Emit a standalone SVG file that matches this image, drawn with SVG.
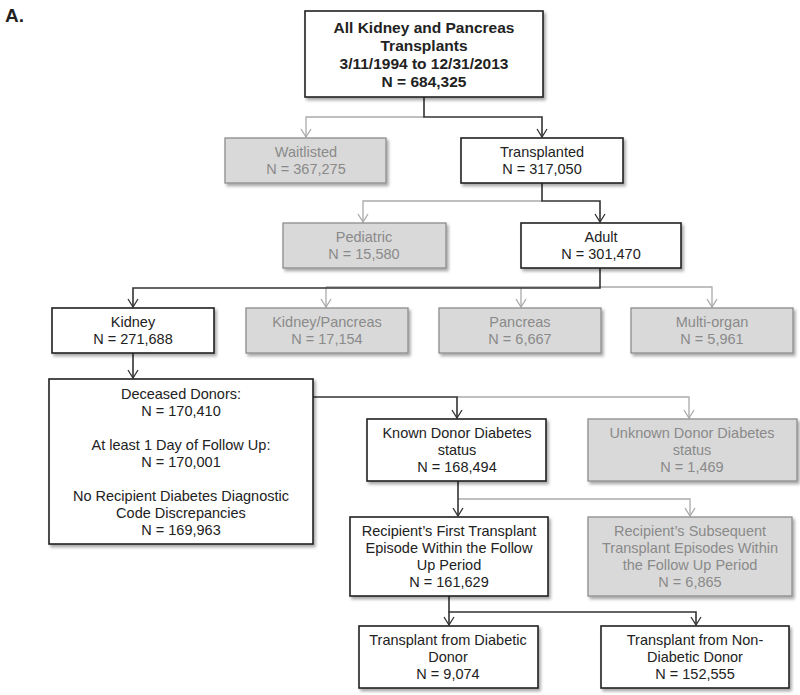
<svg xmlns="http://www.w3.org/2000/svg" width="800" height="695" viewBox="0 0 800 695">
<defs>
<filter id="sh" x="-10%" y="-10%" width="130%" height="140%">
<feDropShadow dx="2" dy="2.5" stdDeviation="1.5" flood-color="#000" flood-opacity="0.35"/>
</filter>
<marker id="ad" markerWidth="10" markerHeight="12" refX="9" refY="6" orient="auto" markerUnits="userSpaceOnUse" viewBox="0 0 10 12">
<path d="M1,1 L9,6 L1,11" fill="none" stroke="#333" stroke-width="1.3"/>
</marker>
<marker id="ag" markerWidth="10" markerHeight="12" refX="9" refY="6" orient="auto" markerUnits="userSpaceOnUse" viewBox="0 0 10 12">
<path d="M1,1 L9,6 L1,11" fill="none" stroke="#aaa" stroke-width="1.3"/>
</marker>
</defs>
<style>
text{font-family:"Liberation Sans",Arial,sans-serif;font-size:14.5px;text-anchor:middle;fill:#222}
.b{font-weight:bold;font-size:15.5px}
.w rect{fill:#fff;stroke:#222;stroke-width:1.6;filter:url(#sh)}
.g rect{fill:#d9d9d9;stroke:#8c8c8c;stroke-width:1.3;filter:url(#sh)}
.g text{fill:#8a8a8a}
.cd{fill:none;stroke:#333;stroke-width:1.6}
.cg{fill:none;stroke:#aaa;stroke-width:1.3}
</style>
<text x="5" y="22" class="b" style="text-anchor:start;font-size:19px">A.</text>
<g id="connectors">
<path class="cg" d="M424,117 H306 V137" marker-end="url(#ag)"/>
<path class="cd" d="M424,97 V117 H542 V137" marker-end="url(#ad)"/>
<path class="cg" d="M542,201 H363 V222" marker-end="url(#ag)"/>
<path class="cd" d="M542,183 V201 H600 V222" marker-end="url(#ad)"/>
<path class="cg" d="M326,287 V307" marker-end="url(#ag)"/>
<path class="cg" d="M326,287 H712 V307" marker-end="url(#ag)"/>
<path class="cg" d="M521,287 V307" marker-end="url(#ag)"/>
<path class="cd" d="M600,268 V288 H133 V307" marker-end="url(#ad)"/>
<path class="cd" d="M133,353 V378" marker-end="url(#ad)"/>
<path class="cg" d="M457,397 H689 V418" marker-end="url(#ag)"/>
<path class="cd" d="M313,397 H457 V418" marker-end="url(#ad)"/>
<path class="cg" d="M458,499 H690 V516" marker-end="url(#ag)"/>
<path class="cd" d="M458,481 V516" marker-end="url(#ad)"/>
<path class="cd" d="M449,596 V612 H696 V625" marker-end="url(#ad)"/>
<path class="cd" d="M449,612 V625" marker-end="url(#ad)"/>
</g>
<g id="all" class="w">
<rect x="305" y="11" width="238" height="86"/>
<text x="424" y="33" class="b">All Kidney and Pancreas</text>
<text x="424" y="51" class="b">Transplants</text>
<text x="424" y="69" class="b">3/11/1994 to 12/31/2013</text>
<text x="424" y="87" class="b">N = 684,325</text>
</g>
<g id="waitlisted" class="g">
<rect x="225" y="138" width="161" height="45"/>
<text x="306" y="157">Waitlisted</text>
<text x="306" y="174">N = 367,275</text>
</g>
<g id="transplanted" class="w">
<rect x="461" y="138" width="162" height="45"/>
<text x="542" y="157">Transplanted</text>
<text x="542" y="174">N = 317,050</text>
</g>
<g id="pediatric" class="g">
<rect x="283" y="223" width="163" height="45"/>
<text x="364" y="242">Pediatric</text>
<text x="364" y="259">N = 15,580</text>
</g>
<g id="adult" class="w">
<rect x="521" y="223" width="160" height="45"/>
<text x="601" y="242">Adult</text>
<text x="601" y="259">N = 301,470</text>
</g>
<g id="kidney" class="w">
<rect x="52" y="308" width="162" height="45"/>
<text x="133" y="327">Kidney</text>
<text x="133" y="344">N = 271,688</text>
</g>
<g id="kidneypancreas" class="g">
<rect x="246" y="308" width="162" height="45"/>
<text x="327" y="327">Kidney/Pancreas</text>
<text x="327" y="344">N = 17,154</text>
</g>
<g id="pancreas" class="g">
<rect x="439" y="308" width="162" height="45"/>
<text x="520" y="327">Pancreas</text>
<text x="520" y="344">N = 6,667</text>
</g>
<g id="multiorgan" class="g">
<rect x="631" y="308" width="162" height="45"/>
<text x="712" y="327">Multi-organ</text>
<text x="712" y="344">N = 5,961</text>
</g>
<g id="deceased" class="w">
<rect x="49" y="379" width="264" height="165"/>
<text x="181" y="399">Deceased Donors:</text>
<text x="181" y="416">N = 170,410</text>
<text x="181" y="450">At least 1 Day of Follow Up:</text>
<text x="181" y="467">N = 170,001</text>
<text x="181" y="501">No Recipient Diabetes Diagnostic</text>
<text x="181" y="518">Code Discrepancies</text>
<text x="181" y="535">N = 169,963</text>
</g>
<g id="known" class="w">
<rect x="367" y="419" width="179" height="62"/>
<text x="457" y="438">Known Donor Diabetes</text>
<text x="457" y="455">status</text>
<text x="457" y="472">N = 168,494</text>
</g>
<g id="unknown" class="g">
<rect x="588" y="419" width="209" height="62"/>
<text x="692" y="438">Unknown Donor Diabetes</text>
<text x="692" y="455">status</text>
<text x="692" y="472">N = 1,469</text>
</g>
<g id="first" class="w">
<rect x="350" y="517" width="198" height="79"/>
<text x="449" y="536">Recipient’s First Transplant</text>
<text x="449" y="553">Episode Within the Follow</text>
<text x="449" y="570">Up Period</text>
<text x="449" y="587">N = 161,629</text>
</g>
<g id="subsequent" class="g">
<rect x="588" y="517" width="204" height="79"/>
<text x="690" y="536">Recipient’s Subsequent</text>
<text x="690" y="553">Transplant Episodes Within</text>
<text x="690" y="570">the Follow Up Period</text>
<text x="690" y="587">N = 6,865</text>
</g>
<g id="diabetic" class="w">
<rect x="359" y="626" width="179" height="62"/>
<text x="448" y="645">Transplant from Diabetic</text>
<text x="448" y="662">Donor</text>
<text x="448" y="679">N = 9,074</text>
</g>
<g id="nondiabetic" class="w">
<rect x="601" y="626" width="188" height="62"/>
<text x="695" y="645">Transplant from Non-</text>
<text x="695" y="662">Diabetic Donor</text>
<text x="695" y="679">N = 152,555</text>
</g>
</svg>
